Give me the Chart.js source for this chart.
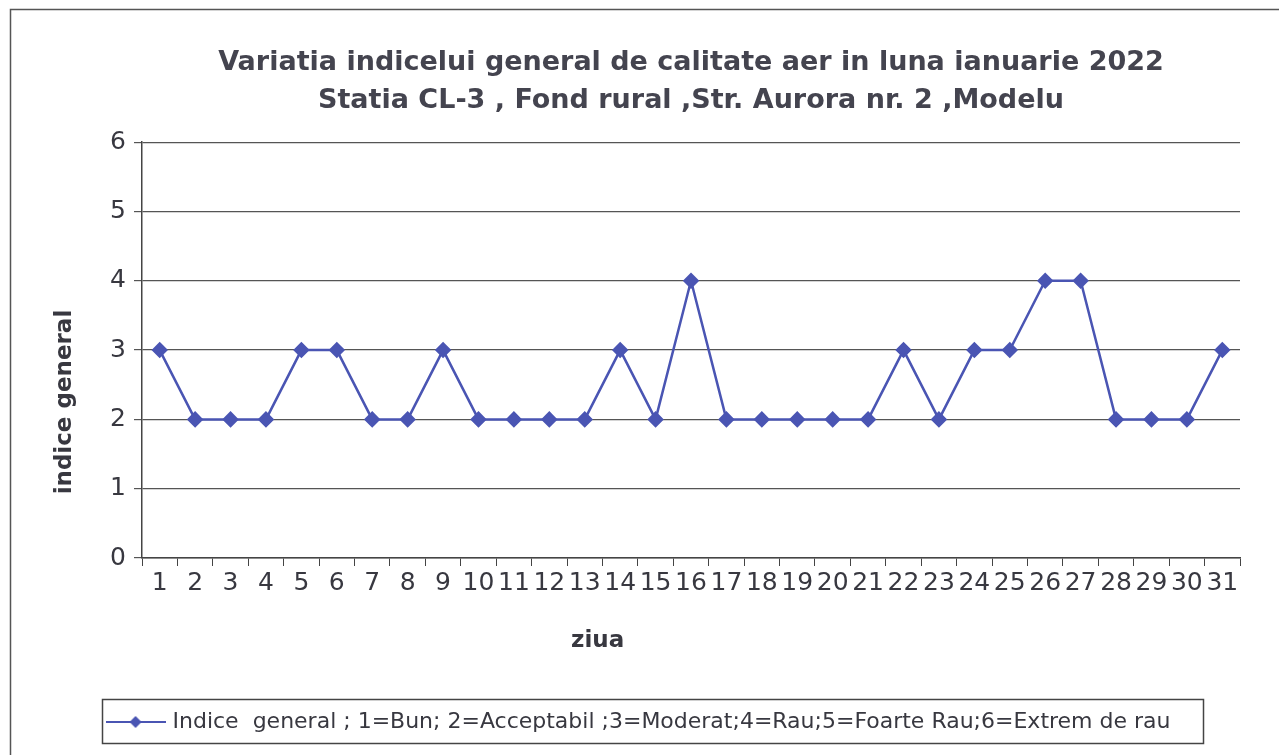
<!DOCTYPE html>
<html>
<head>
<meta charset="utf-8">
<script src="https://cdn.jsdelivr.net/npm/chart.js@4/dist/chart.umd.min.js"></script>
<style>
  html, body { margin: 0; padding: 0; background: #fff; }
  #wrap { width: 1279px; height: 755px; }
</style>
</head>
<body>
<div id="wrap"><canvas id="chart" width="1279" height="755"></canvas></div>
<script>
    'use strict';

    // zilele lunii ianuarie 2022
    let days = ['1', '2', '3', '4', '5', '6', '7', '8', '9', '10', '11', '12', '13', '14', '15', '16',
        '17', '18', '19', '20', '21', '22', '23', '24', '25', '26', '27', '28', '29', '30', '31'];

    // indice general pe zi
    let indiceGeneral = [3, 2, 2, 2, 3, 3, 2, 2, 3, 2, 2, 2, 2, 3, 2, 4,
        2, 2, 2, 2, 2, 3, 2, 3, 3, 4, 4, 2, 2, 2, 3];

    let titleLines = ['Variatia indicelui general de calitate aer in luna ianuarie 2022',
        'Statia CL-3 , Fond rural ,Str. Aurora nr. 2 ,Modelu'];
    let seriesLabel = 'Indice  general ; 1=Bun; 2=Acceptabil ;3=Moderat;4=Rau;5=Foarte Rau;6=Extrem de rau';
    let yTitle = 'indice general';
    let xTitle = 'ziua';

    let lineColor = '#4a55b3';
    let textColor = '#383840';
    let fontFamily = '"DejaVu Sans", "Liberation Sans", Arial, sans-serif';
    let axisTitleFont = 'bold 23px ' + fontFamily;

    // simbol legenda: linie cu romb
    let legendSymbol = (function () {
        let c = document.createElement('canvas');
        c.width = 60;
        c.height = 16;
        let g = c.getContext('2d');
        g.strokeStyle = lineColor;
        g.lineWidth = 2;
        g.beginPath();
        g.moveTo(0, 8);
        g.lineTo(60, 8);
        g.stroke();
        g.fillStyle = lineColor;
        g.beginPath();
        g.moveTo(30, 2);
        g.lineTo(36, 8);
        g.lineTo(30, 14);
        g.lineTo(24, 8);
        g.closePath();
        g.fill();
        return c;
    })();

    let framePlugin = {
        id: 'frame',
        beforeDraw: function (chart) {
            let ctx = chart.ctx;
            ctx.save();
            ctx.fillStyle = '#ffffff';
            ctx.fillRect(0, 0, chart.width, chart.height);
            ctx.strokeStyle = '#555';
            ctx.lineWidth = 1.5;
            ctx.strokeRect(10.5, 9.5, chart.width + 20, chart.height + 20);
            ctx.restore();
        },
        afterDraw: function (chart) {
            let ctx = chart.ctx;
            let xs = chart.scales.x;
            let ys = chart.scales.y;

            // titlurile axelor, asezate ca in original (nu centrate pe zona graficului)
            ctx.save();
            ctx.fillStyle = textColor;
            ctx.font = axisTitleFont;
            ctx.textAlign = 'center';
            ctx.textBaseline = 'middle';
            ctx.fillText(xTitle, xs.left + (xs.right - xs.left) * 0.415, xs.bottom - 58);
            ctx.translate(ys.left + 25, ys.top + (ys.bottom - ys.top) * 0.625);
            ctx.rotate(-Math.PI / 2);
            ctx.fillText(yTitle, 0, 0);
            ctx.restore();

            let legend = chart.legend;
            if (!legend || !legend.legendHitBoxes || !legend.legendHitBoxes.length) {
                return;
            }
            let hb = legend.legendHitBoxes[0];
            ctx.save();
            ctx.strokeStyle = '#444';
            ctx.lineWidth = 1.5;
            ctx.strokeRect(Math.round(hb.left - 8) + 0.5, Math.round(legend.top) + 0.5,
                Math.round(hb.width + 40), Math.round(legend.bottom - legend.top));
            ctx.restore();
        }
    };

    let ctx = document.getElementById('chart');

    new Chart(ctx, {
        type: 'line',
        data: {
            labels: days,
            datasets: [{
                label: seriesLabel,
                data: indiceGeneral,
                borderColor: lineColor,
                backgroundColor: lineColor,
                borderWidth: 2.5,
                pointStyle: 'rectRot',
                pointRadius: 6.5,
                pointHoverRadius: 6.5,
                tension: 0,
                fill: false
            }]
        },
        options: {
            responsive: false,
            animation: false,
            layout: {
                padding: { top: 20, left: 40, right: 39, bottom: 12 }
            },
            plugins: {
                title: {
                    display: true,
                    text: titleLines,
                    color: '#44444f',
                    fullSize: false,
                    font: { family: fontFamily, size: 27, weight: 'bold', lineHeight: 1.41 },
                    padding: { top: 24, bottom: 22 }
                },
                legend: {
                    display: true,
                    position: 'bottom',
                    labels: {
                        color: textColor,
                        font: { family: fontFamily, size: 22 },
                        usePointStyle: true,
                        pointStyleWidth: 52,
                        padding: 12,
                        generateLabels: function (chart) {
                            let ds = chart.data.datasets[0];
                            return [{
                                text: ds.label,
                                pointStyle: legendSymbol,
                                fillStyle: lineColor,
                                strokeStyle: lineColor,
                                lineWidth: 0,
                                fontColor: textColor,
                                datasetIndex: 0,
                                hidden: false
                            }];
                        }
                    }
                },
                tooltip: { enabled: false }
            },
            scales: {
                x: {
                    offset: true,
                    grid: {
                        offset: true,
                        drawOnChartArea: false,
                        drawTicks: true,
                        tickLength: 8,
                        color: '#444'
                    },
                    border: { color: '#444', width: 1.5 },
                    ticks: {
                        color: textColor,
                        font: { family: fontFamily, size: 25 },
                        autoSkip: false,
                        maxRotation: 0,
                        minRotation: 0,
                        padding: 2
                    },
                    title: { display: false },
                    afterFit: function (scale) {
                        scale.height = 141;
                    }
                },
                y: {
                    min: 0,
                    max: 6,
                    ticks: {
                        stepSize: 1,
                        color: textColor,
                        font: { family: fontFamily, size: 25 },
                        padding: 8
                    },
                    grid: {
                        color: '#555',
                        lineWidth: 1.2,
                        tickLength: 8
                    },
                    border: { color: '#444', width: 1.5 },
                    title: { display: false },
                    afterFit: function (scale) {
                        scale.width = 102;
                    }
                }
            }
        },
        plugins: [framePlugin]
    });
</script>
</body>
</html>
